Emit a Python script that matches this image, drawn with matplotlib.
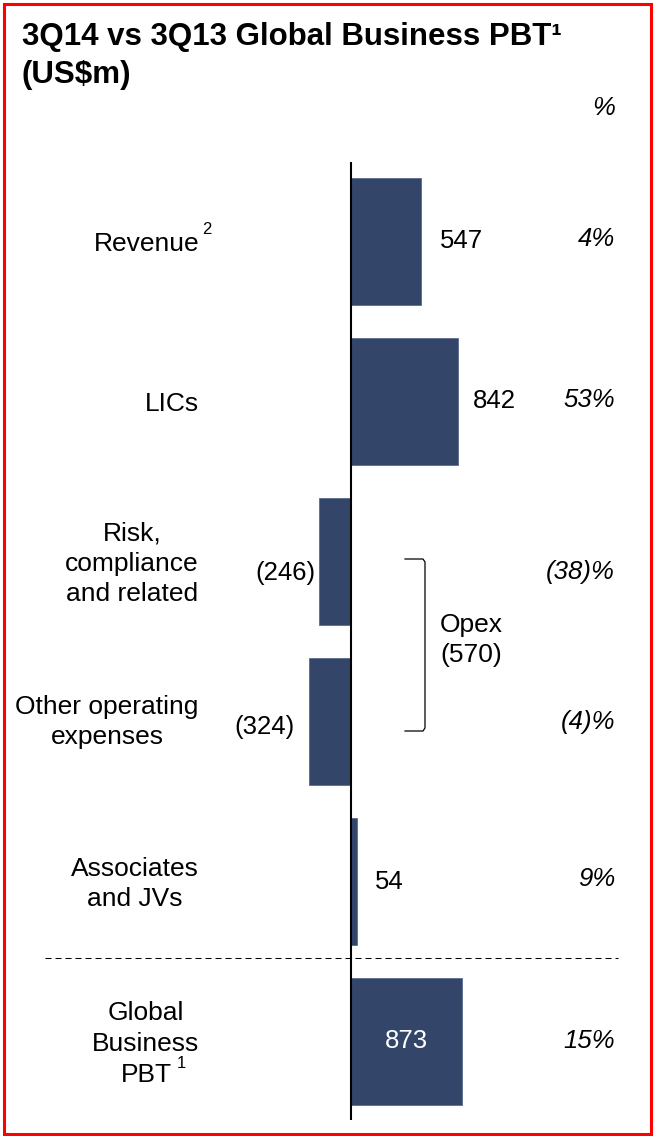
import matplotlib
matplotlib.use("Agg")
import matplotlib.pyplot as plt
from matplotlib.patches import Rectangle

# ---------------- data ----------------
categories = ["Revenue", "LICs", "Risk,\ncompliance\nand related",
              "Other operating\nexpenses", "Associates\nand JVs",
              "Global\nBusiness\nPBT"]
values = [547, 842, -246, -324, 54, 873]
pct_labels = ["4%", "53%", "(38)%", "(4)%", "9%", "15%"]
title_line1 = "3Q14 vs 3Q13 Global Business PBT\u00b9"
title_line2 = "(US$m)"

# ---------------- layout helpers (pixels) ----------------
W, H = 654, 1136
PX = 0.128          # pixels per US$m
X0 = 350.5          # pixel x of zero line
Y0, STEP = 241.5, 160.0
LS = 30.5           # label line spacing in pixels

FONT = "Liberation Sans"
FS = 18.5
FS_LAB = 19
BAR = "#33466a"

fig = plt.figure(figsize=(W / 100, H / 100), dpi=100)
ax = fig.add_axes([0, 0, 1, 1])
ax.axis("off")
ax.set_xlim(-X0 / PX, (W - X0) / PX)
ax.set_ylim((H - Y0) / STEP, -Y0 / STEP)


def dx(p):
    return (p - X0) / PX


def dy(p):
    return (p - Y0) / STEP


def fx(p):
    return p / W


def fy(p):
    return 1 - p / H


ypos = list(range(len(values)))
ax.barh(ypos, values, height=127 / STEP, color=BAR, edgecolor="#5a6a8c",
        linewidth=0.6, zorder=2)

# zero axis line
ax.plot([0, 0], [dy(162), dy(1120)], color="black", lw=1.5, zorder=3,
        solid_capstyle="butt")

# dashed separator
ax.plot([dx(45), dx(618)], [dy(958), dy(958)], color="black", lw=0.75,
        linestyle=(0, (5.8, 3.8)), zorder=1)

# value labels
gaps = [19, 15, 4, 14, 18, 0]
val_dy = [0, 0, 12, 6, 1, 0]
for i, v in enumerate(values):
    txt = f"({abs(v)})" if v < 0 else f"{v}"
    y = i + val_dy[i] / STEP
    if i == len(values) - 1:
        ax.text(v / 2, y, txt, ha="center", va="center", color="white",
                fontsize=FS, family=FONT, zorder=4)
    elif v > 0:
        ax.text(v + gaps[i] / PX, y, txt, ha="left", va="center",
                fontsize=FS, family=FONT)
    else:
        ax.text(v - gaps[i] / PX, y, txt, ha="right", va="center",
                fontsize=FS, family=FONT)

# percentage labels
pct_dy = [-2, -1, 11, 1, -2, -1]
for i, p in enumerate(pct_labels):
    ax.text(dx(615), i + pct_dy[i] / STEP, p, ha="right", va="center",
            fontsize=FS, family=FONT, style="italic")

# category labels, drawn line by line
lab_cx = [None, None, 132, 107, 135, 146]
lab_dy = [0, 0, 0, -2, 0, 0]
for i, c in enumerate(categories):
    lines = c.split("\n")
    n = len(lines)
    cy = Y0 + STEP * i + lab_dy[i]
    for k, line in enumerate(lines):
        base = cy + (k - (n - 1) / 2) * LS + 9.5
        if lab_cx[i] is None:
            ax.text(dx(199), dy(base), line, ha="right", va="baseline",
                    fontsize=FS_LAB, family=FONT)
        else:
            ax.text(dx(lab_cx[i]), dy(base), line, ha="center",
                    va="baseline", fontsize=FS_LAB, family=FONT)

# superscripts on labels
ax.text(dx(202), dy(234), "2", ha="left", va="baseline", fontsize=12,
        family=FONT)
ax.text(dx(177), dy(1068), "1", ha="left", va="baseline", fontsize=12,
        family=FONT)

# Opex bracket
opex = -(values[2] + values[3])
bx, bl, bt, bb = dx(425), dx(405), dy(559), dy(731)
ax.plot([bl, bx - 2 / PX, bx, bx, bx - 2 / PX, bl],
        [bt, bt, bt + 3 / STEP, bb - 3 / STEP, bb, bb],
        color="black", lw=0.9, zorder=3)
ax.text(dx(440), dy(632), "Opex", ha="left", va="baseline",
        fontsize=FS_LAB, family=FONT)
ax.text(dx(440), dy(662), f"({opex})", ha="left", va="baseline",
        fontsize=FS_LAB, family=FONT)

# title and header
fig.text(fx(22), fy(45), title_line1, ha="left", va="baseline",
         fontsize=22.5, fontweight="bold", family=FONT)
fig.text(fx(22), fy(83), title_line2, ha="left", va="baseline",
         fontsize=22.5, fontweight="bold", family=FONT)
fig.text(fx(615), fy(115), "%", ha="right", va="baseline",
         fontsize=FS, style="italic", family=FONT)

# red frame
fig.patches.append(Rectangle((fx(3.5), fy(1133.5)), (W - 7) / W,
                             (1130) / H, transform=fig.transFigure,
                             fill=False, edgecolor="#ff0000", lw=2.2))

fig.savefig("out.png", dpi=100)
